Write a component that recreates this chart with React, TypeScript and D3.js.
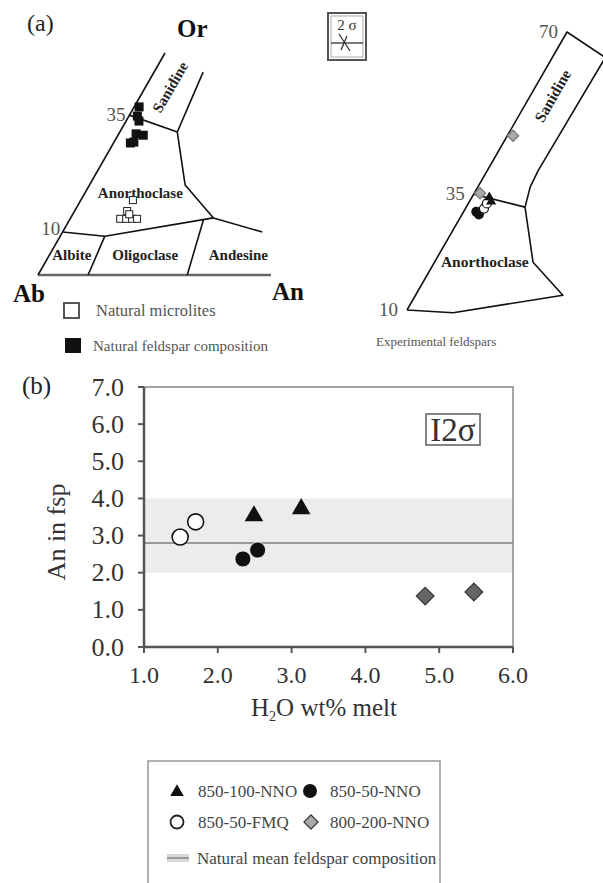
import * as d3 from "d3";

const FONT = "'Liberation Serif', 'DejaVu Serif', serif";

// ---- panel (b) data ----
const xTicks = [1, 2, 3, 4, 5, 6];
const yTicks = [0, 1, 2, 3, 4, 5, 6, 7];
const nno100: [number, number][] = [[2.49, 3.53], [3.13, 3.72]];
const nno50: [number, number][] = [[2.34, 2.37], [2.54, 2.61]];
const fmq50: [number, number][] = [[1.49, 2.96], [1.7, 3.37]];
const nno200: [number, number][] = [[4.81, 1.37], [5.47, 1.48]];
const naturalBand = [2.0, 4.0];
const naturalMean = 2.8;

// ---- panel (a) left ternary, [An, Or] in % ----
const leftBase: [number, number][] = [[0, 0], [47, 0]];
const leftLines: [number, number][][] = [
  [[0, 0], [0, 48.6]],
  [[9.9, 44.4], [10.6, 38.9], [11.6, 31.3]],
  [[0, 35], [11.6, 31.3]],
  [[11.6, 31.3], [19.3, 19.7], [28.8, 12.5], [40.3, 9.4]],
  [[0, 9.4], [9, 8.5], [28.8, 12.5]],
  [[9, 8.5], [10.1, 0]],
  [[27, 12.1], [30.1, 0]],
];
const leftLabels = [
  { name: "Sanidine", an: 5.0, or: 41.1, rot: -60 },
  { name: "Anorthoclase", an: 11.2, or: 17.9, rot: 0 },
  { name: "Albite", an: 4.5, or: 4.4, rot: 0 },
  { name: "Oligoclase", an: 19.3, or: 4.4, rot: 0 },
  { name: "Andesine", an: 38.1, or: 4.4, rot: 0 },
];
const leftTicks = [10, 35];
const naturalFsp: [number, number][] = [
  [1.0, 36.8], [1.7, 34.8], [2.6, 33.7], [3.5, 30.9], [5.1, 30.6], [3.4, 28.9], [4.0, 29.1],
];
const microlites: [number, number][] = [
  [10.5, 16.4], [10.6, 14.0], [10.1, 12.3], [11.3, 12.3], [12.5, 12.3], [13.5, 12.3], [11.4, 13.3],
];

// ---- panel (a) right ternary ----
const rightLines: [number, number][][] = [
  [[0, 10], [0, 70], [10, 64.5], [9.6, 40.1], [9.9, 36.5], [11.1, 32.2], [18.6, 20.3], [27.8, 13.2], [9, 9.4], [0, 10]],
  [[0, 35], [11.1, 32.2]],
];
const rightLabels = [
  { name: "Sanidine", an: 4.3, or: 56.2, rot: -60 },
  { name: "Anorthoclase", an: 9.5, or: 20.3, rot: 0 },
];
const rightTicks = [10, 35, 70];
const expNno50: [number, number][] = [[2.4, 31.2], [3.2, 30.6]];
const expFmq50: [number, number][] = [[3.5, 31.9], [3.5, 33.0]];
const expNno100: [number, number][] = [[3.3, 34.3], [4.1, 33.4]];
const expNno200: [number, number][] = [[1.1, 47.6], [1.1, 35.2]];

// left ternary projection
const lAn = d3.scaleLinear().domain([0, 47]).range([0, 233]);
const lOrX = d3.scaleLinear().domain([0, 48.6]).range([38, 165]);
const lOrY = d3.scaleLinear().domain([0, 48.6]).range([275, 53]);
const lp = (an: number, or: number): [number, number] => [lOrX(or) + lAn(an), lOrY(or)];

// right ternary projection
const rAn = d3.scaleLinear().domain([0, 10]).range([0, 53]);
const rOrX = d3.scaleLinear().domain([10, 70]).range([407, 567]);
const rOrY = d3.scaleLinear().domain([10, 70]).range([310, 32]);
const rp = (an: number, or: number): [number, number] => [rOrX(or) + rAn(an), rOrY(or)];

// panel (b) scales
const x = d3.scaleLinear().domain([1, 6]).range([144, 513]);
const y = d3.scaleLinear().domain([0, 7]).range([647, 387]);

const tri = d3.symbol().type(d3.symbolTriangle);
const sq = d3.symbol().type(d3.symbolSquare);

function Diamond({ cx, cy, size, fill, stroke }: any) {
  return (
    <path
      d={sq.size(size * size)() || ""}
      transform={`translate(${cx},${cy}) rotate(45)`}
      fill={fill}
      stroke={stroke}
      strokeWidth={1.2}
    />
  );
}

export default function App() {
  const lineL = d3.line<[number, number]>().x((d) => lp(d[0], d[1])[0]).y((d) => lp(d[0], d[1])[1]);
  const lineR = d3.line<[number, number]>().x((d) => rp(d[0], d[1])[0]).y((d) => rp(d[0], d[1])[1]);
  const [x0, x1] = x.range();
  const [y0, y1] = y.range();

  return (
    <svg
      width={603}
      height={883}
      style={{ position: "absolute", left: 0, top: 0, background: "#fff" }}
      fontFamily={FONT}
    >
      {/* ================= panel (a) ================= */}
      <text x={27} y={31} fontSize={24} fill="#222">(a)</text>
      <text x={177} y={37} fontSize={25} fontWeight="bold" fill="#111">Or</text>
      <text x={13} y={302} fontSize={25} fontWeight="bold" fill="#111">Ab</text>
      <text x={272} y={300} fontSize={25} fontWeight="bold" fill="#111">An</text>

      <path d={lineL(leftBase) || ""} fill="none" stroke="#666" strokeWidth={2.5} />
      {leftLines.map((l, i) => (
        <path key={i} d={lineL(l) || ""} fill="none" stroke="#111" strokeWidth={1.6} strokeLinejoin="round" />
      ))}
      {leftTicks.map((t) => {
        const [px, py] = lp(0, t);
        return (
          <text key={t} x={px - 4} y={py + 6} fontSize={19} textAnchor="end" fill="#555">{t}</text>
        );
      })}
      {leftLabels.map((l) => {
        const [px, py] = lp(l.an, l.or);
        return (
          <text
            key={l.name}
            transform={`translate(${px},${py}) rotate(${l.rot})`}
            textAnchor="middle"
            dy={5}
            fontSize={15}
            fontWeight="bold"
            fill="#222"
          >
            {l.name}
          </text>
        );
      })}
      {naturalFsp.map((d, i) => {
        const [px, py] = lp(d[0], d[1]);
        return <rect key={i} x={px - 4.5} y={py - 4.5} width={9} height={9} fill="#111" />;
      })}
      {microlites.map((d, i) => {
        const [px, py] = lp(d[0], d[1]);
        return <rect key={i} x={px - 3.5} y={py - 3.5} width={7} height={7} fill="#fff" stroke="#222" strokeWidth={1} />;
      })}

      {/* legend (a) */}
      <rect x={64} y={303} width={15} height={15} fill="#fff" stroke="#444" strokeWidth={1.8} />
      <text x={96} y={316} fontSize={16.5} fill="#555">Natural microlites</text>
      <rect x={65} y={338} width={16} height={15} fill="#111" />
      <text x={93} y={351} fontSize={15} fill="#555">Natural feldspar composition</text>

      {/* 2 sigma box (a) */}
      <rect x={328} y={13} width={38} height={47} fill="#fff" stroke="#555" strokeWidth={2} />
      <rect x={331} y={16} width={32} height={41} fill="none" stroke="#999" strokeWidth={0.8} />
      <text x={347} y={30} fontSize={15} textAnchor="middle" fill="#333">2 σ</text>
      <line x1={331} y1={43} x2={363} y2={43} stroke="#333" strokeWidth={1.3} />
      <line x1={339} y1={34} x2={350} y2={51} stroke="#333" strokeWidth={1.3} />
      <line x1={347} y1={36} x2={341} y2={50} stroke="#333" strokeWidth={1.3} />

      {/* right ternary */}
      {rightLines.map((l, i) => (
        <path key={i} d={lineR(l) || ""} fill="none" stroke="#111" strokeWidth={1.6} strokeLinejoin="round" />
      ))}
      {rightTicks.map((t) => {
        const [px, py] = rp(0, t);
        return (
          <text key={t} x={px - 9} y={py + 6} fontSize={19} textAnchor="end" fill="#555">{t}</text>
        );
      })}
      {rightLabels.map((l) => {
        const [px, py] = rp(l.an, l.or);
        return (
          <text
            key={l.name}
            transform={`translate(${px},${py}) rotate(${l.rot})`}
            textAnchor="middle"
            dy={5}
            fontSize={15.5}
            fontWeight="bold"
            fill="#222"
          >
            {l.name}
          </text>
        );
      })}
      {expNno50.map((d, i) => {
        const [px, py] = rp(d[0], d[1]);
        return <circle key={i} cx={px} cy={py} r={5} fill="#111" />;
      })}
      {expFmq50.map((d, i) => {
        const [px, py] = rp(d[0], d[1]);
        return <circle key={i} cx={px} cy={py} r={4.5} fill="#fff" stroke="#111" strokeWidth={1.2} />;
      })}
      {expNno100.map((d, i) => {
        const [px, py] = rp(d[0], d[1]);
        return <path key={i} d={tri.size(45)() || ""} transform={`translate(${px},${py})`} fill="#111" />;
      })}
      {expNno200.map((d, i) => {
        const [px, py] = rp(d[0], d[1]);
        return <Diamond key={i} cx={px} cy={py} size={8} fill="#aaa" stroke="#777" />;
      })}
      <text x={376} y={346} fontSize={13} fill="#555">Experimental feldspars</text>

      {/* ================= panel (b) ================= */}
      <text x={22} y={394} fontSize={25} fill="#222">(b)</text>
      <rect x={x0} y={y(naturalBand[1])} width={x1 - x0} height={y(naturalBand[0]) - y(naturalBand[1])} fill="#ececec" />
      <line x1={x0} x2={x1} y1={y(naturalMean)} y2={y(naturalMean)} stroke="#999" strokeWidth={2} />
      <rect x={x0} y={y1} width={x1 - x0} height={y0 - y1} fill="none" stroke="#888" strokeWidth={1.5} />
      <line x1={x0} x2={x0} y1={y1} y2={y0} stroke="#555" strokeWidth={2.5} />
      <line x1={x0} x2={x1} y1={y0} y2={y0} stroke="#555" strokeWidth={2.5} />
      {yTicks.map((t) => (
        <g key={t}>
          <line x1={x0 - 6} x2={x0} y1={y(t)} y2={y(t)} stroke="#555" strokeWidth={2} />
          <text x={124} y={y(t) + 8.5} fontSize={26} textAnchor="end" fill="#333">{t.toFixed(1)}</text>
        </g>
      ))}
      {xTicks.map((t) => (
        <g key={t}>
          <line x1={x(t)} x2={x(t)} y1={y0} y2={y0 + 6} stroke="#555" strokeWidth={2} />
          <text x={x(t)} y={683} fontSize={24} textAnchor="middle" fill="#333">{t.toFixed(1)}</text>
        </g>
      ))}
      <text transform="translate(65,532) rotate(-90)" textAnchor="middle" fontSize={26} fill="#333">An in fsp</text>
      <text x={324} y={716} textAnchor="middle" fontSize={25} fill="#333">
        H<tspan fontSize={14} dy={5}>2</tspan><tspan dy={-5}>O wt% melt</tspan>
      </text>

      {/* 2 sigma box (b) */}
      <rect x={426} y={414} width={54} height={31} fill="#fff" stroke="#666" strokeWidth={1.6} />
      <text x={453} y={441} fontSize={33} textAnchor="middle" fill="#333">I2σ</text>

      {fmq50.map((d, i) => (
        <circle key={i} cx={x(d[0])} cy={y(d[1])} r={8} fill="#fff" stroke="#111" strokeWidth={1.6} />
      ))}
      {nno50.map((d, i) => (
        <circle key={i} cx={x(d[0])} cy={y(d[1])} r={8} fill="#111" stroke="#fff" strokeWidth={0.8} />
      ))}
      {nno100.map((d, i) => (
        <path key={i} d={tri.size(150)() || ""} transform={`translate(${x(d[0])},${y(d[1])})`} fill="#111" />
      ))}
      {nno200.map((d, i) => (
        <Diamond key={i} cx={x(d[0])} cy={y(d[1])} size={12.5} fill="#666" stroke="#333" />
      ))}

      {/* legend (b) */}
      <rect x={148} y={761} width={292} height={140} fill="none" stroke="#999" strokeWidth={1.5} />
      <path d={tri.size(80)() || ""} transform="translate(177,792)" fill="#111" />
      <text x={198} y={797} fontSize={17} fill="#444">850-100-NNO</text>
      <circle cx={310} cy={791} r={7} fill="#111" />
      <text x={330} y={797} fontSize={17} fill="#444">850-50-NNO</text>
      <circle cx={177} cy={822} r={6.5} fill="#fff" stroke="#222" strokeWidth={1.8} />
      <text x={198} y={828} fontSize={17} fill="#444">850-50-FMQ</text>
      <Diamond cx={311} cy={822} size={10} fill="#aaa" stroke="#333" />
      <text x={330} y={828} fontSize={17} fill="#444">800-200-NNO</text>
      <rect x={167} y={854} width={22} height={8} fill="#d8d8d8" />
      <line x1={167} x2={189} y1={858} y2={858} stroke="#999" strokeWidth={2} />
      <text x={197} y={864} fontSize={17} fill="#444">Natural mean feldspar composition</text>
    </svg>
  );
}
